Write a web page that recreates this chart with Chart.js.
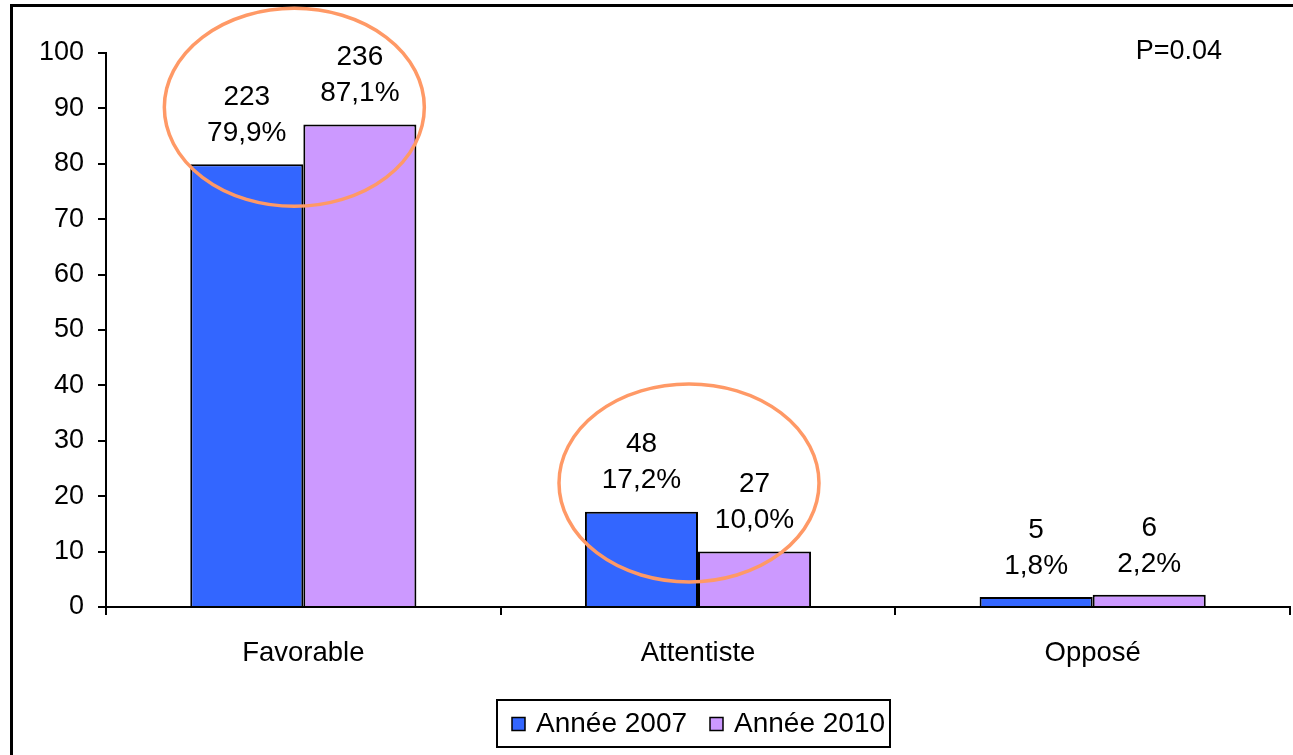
<!DOCTYPE html>
<html>
<head>
<meta charset="utf-8">
<script src="https://cdn.jsdelivr.net/npm/chart.js@4.4.0/dist/chart.umd.min.js"></script>
<style>
  html, body { margin: 0; padding: 0; background: #fff; overflow: hidden; }
  #wrap { width: 1293px; height: 755px; position: relative; }
</style>
</head>
<body>
<div id="wrap"><canvas id="chart" width="1293" height="755"></canvas></div>
<script>
// data
const categories = ['Favorable', 'Attentiste', 'Opposé'];
const seriesNames = ['Année 2007', 'Année 2010'];
const pct2007 = [79.9, 17.2, 1.8];
const pct2010 = [87.1, 10.0, 2.2];
const count2007 = [223, 48, 5];
const count2010 = [236, 27, 6];
const yTicks = [0, 10, 20, 30, 40, 50, 60, 70, 80, 90, 100];
const pValueText = 'P=0.04';
// circled groups: category index + value at the ellipse centre
const circled = [{ cat: 0, y: 90.2 }, { cat: 1, y: 22.4 }];

const FONT = '"Liberation Sans", Arial, sans-serif';
const counts = [count2007, count2010];

function fmtPct(v) {
    return v.toFixed(1).replace('.', ',') + '%';
}

// frame, value labels, ellipses, p value and the boxed legend
const extras = {
    id: 'extras',
    beforeDraw(chart) {
        const ctx = chart.ctx;
        ctx.save();
        ctx.fillStyle = '#fff';
        ctx.fillRect(0, 0, chart.width, chart.height);
        ctx.strokeStyle = '#000';
        ctx.lineWidth = 3;
        ctx.strokeRect(11.5, 5.5, chart.width + 20, chart.height + 20);
        ctx.restore();
    },
    afterDatasetsDraw(chart) {
        const ctx = chart.ctx;
        const area = chart.chartArea;
        const x = chart.scales.x;
        const y = chart.scales.y;
        ctx.save();
        ctx.font = '28px ' + FONT;
        ctx.fillStyle = '#000';
        ctx.textAlign = 'center';
        ctx.textBaseline = 'middle';

        chart.data.datasets.forEach((ds, di) => {
            const meta = chart.getDatasetMeta(di);
            meta.data.forEach((bar, i) => {
                ctx.fillText(fmtPct(ds.data[i]), bar.x, bar.y - 31);
                ctx.fillText(String(counts[di][i]), bar.x, bar.y - 67);
            });
        });

        // orange ellipses
        ctx.strokeStyle = '#FF9966';
        ctx.lineWidth = 3.5;
        circled.forEach(c => {
            ctx.beginPath();
            ctx.ellipse(x.getPixelForValue(c.cat) - 9, y.getPixelForValue(c.y), 130, 99, 0, 0, Math.PI * 2);
            ctx.stroke();
        });

        // p value
        ctx.font = '27px ' + FONT;
        ctx.textAlign = 'right';
        ctx.fillText(pValueText, area.right - 68, area.top - 1);

        // legend
        const boxL = 497, boxT = 700, boxW = 393, boxH = 47;
        ctx.font = '28px ' + FONT;
        ctx.lineWidth = 2;
        ctx.strokeStyle = '#000';
        ctx.strokeRect(boxL, boxT, boxW, boxH);
        ctx.textAlign = 'left';
        const cy = boxT + boxH / 2;
        const itemX = [512, 710];
        chart.data.datasets.forEach((ds, di) => {
            ctx.fillStyle = ds.backgroundColor;
            ctx.fillRect(itemX[di], cy - 6, 13, 13);
            ctx.lineWidth = 1.5;
            ctx.strokeRect(itemX[di], cy - 6, 13, 13);
            ctx.fillStyle = '#000';
            ctx.fillText(ds.label, itemX[di] + 24, cy + 1);
        });
        ctx.restore();
    }
};

new Chart(document.getElementById('chart'), {
    type: 'bar',
    data: {
        labels: categories,
        datasets: [
            {
                label: seriesNames[0],
                data: pct2007,
                backgroundColor: '#3366FF',
                borderColor: '#000',
                borderWidth: 2,
                categoryPercentage: 0.573,
                barPercentage: 1.0
            },
            {
                label: seriesNames[1],
                data: pct2010,
                backgroundColor: '#CC99FF',
                borderColor: '#000',
                borderWidth: 2,
                categoryPercentage: 0.573,
                barPercentage: 1.0
            }
        ]
    },
    options: {
        responsive: false,
        animation: false,
        devicePixelRatio: 1,
        layout: { padding: { left: 0, right: 3, top: 53, bottom: 0 } },
        plugins: {
            legend: { display: false },
            tooltip: { enabled: false }
        },
        scales: {
            x: {
                grid: {
                    display: true,
                    drawOnChartArea: false,
                    drawTicks: true,
                    tickLength: 8,
                    color: '#000',
                    lineWidth: 2,
                    offset: true
                },
                border: { color: '#000', width: 2 },
                ticks: {
                    color: '#000',
                    padding: 22,
                    font: { family: FONT, size: 27.5 }
                },
                afterFit(scale) { scale.height = 148; }
            },
            y: {
                min: 0,
                max: 100,
                afterBuildTicks(scale) {
                    scale.ticks = yTicks.map(v => ({ value: v }));
                },
                grid: {
                    display: true,
                    drawOnChartArea: false,
                    drawTicks: true,
                    tickLength: 8,
                    color: '#000',
                    lineWidth: 2
                },
                border: { color: '#000', width: 2 },
                ticks: {
                    color: '#000',
                    padding: 14,
                    font: { family: FONT, size: 27 }
                },
                afterFit(scale) { scale.width = 106; }
            }
        }
    },
    plugins: [extras]
});
</script>
</body>
</html>
